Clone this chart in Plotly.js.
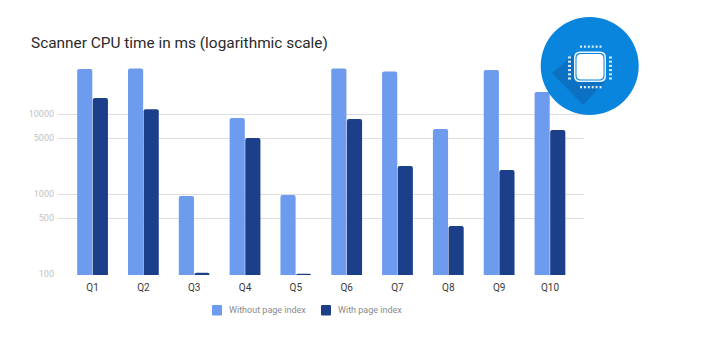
<!DOCTYPE html>
<html><head><meta charset="utf-8">
<script src="https://cdn.plot.ly/plotly-3.0.1.min.js"></script>
<style>html,body{margin:0;padding:0;background:#fff}#c{width:703px;height:353px}</style>
</head><body><div id="c"></div>
<script>
const categories = ['Q1','Q2','Q3','Q4','Q5','Q6','Q7','Q8','Q9','Q10'];
const withoutIndex = [36500,37000,945,8900,970,37000,34000,6500,35500,18800];
const withIndex = [15800,11500,104,5000,101,8650,2240,398,2000,6300];
const tickValues = [100,500,1000,5000,10000];
const seriesNames = ['Without page index','With page index'];
const seriesColors = ['#6d9bee','#1c3f8a'];
const titleText = 'Scanner CPU time in ms (logarithmic scale)';

const W=703,H=353,ml=58,mr=119,mt=60,mb=78;
const pw=W-ml-mr, ph=H-mt-mb;
const X=x=>(x-ml)/pw, Y=y=>(H-mb-y)/ph;
function rect(x0,y0,x1,y1,c){return {type:'rect',xref:'paper',yref:'paper',x0:X(x0),x1:X(x1),y0:Y(y0),y1:Y(y1),fillcolor:c,line:{width:0},layer:'above'};}
function rr(x0,y0,x1,y1,r,c){
  const p=(x,y)=>X(x)+' '+Y(y);
  const path=`M${p(x0+r,y0)}L${p(x1-r,y0)}Q${p(x1,y0)} ${p(x1,y0+r)}L${p(x1,y1-r)}Q${p(x1,y1)} ${p(x1-r,y1)}L${p(x0+r,y1)}Q${p(x0,y1)} ${p(x0,y1-r)}L${p(x0,y0+r)}Q${p(x0,y0)} ${p(x0+r,y0)}Z`;
  return {type:'path',xref:'paper',yref:'paper',path,fillcolor:c,line:{width:0},layer:'above'};
}
function poly(pts,c){return {type:'path',xref:'paper',yref:'paper',path:'M'+pts.map(q=>X(q[0])+' '+Y(q[1])).join('L')+'Z',fillcolor:c,line:{width:0},layer:'above'};}
const cx=589.7,cy=66,r=49;
const shapes=[
 {type:'circle',xref:'paper',yref:'paper',x0:X(cx-r),x1:X(cx+r),y0:Y(cy+r),y1:Y(cy-r),fillcolor:'#0a85de',line:{width:0},layer:'above'},
 poly([[575,53],[552,73],[583,105],[605,82]],'#0c71c2'),
 rr(574,51.5,606,82,6,'#eaf5fd'),
 rr(575.5,53,604.5,80.5,5,'#0a85de'),
 rr(576.5,54,603.5,79.5,4.5,'#ffffff'),
 rr(212,305,222,315.5,1,seriesColors[0]),
 rr(321,305,331,315.5,1,seriesColors[1])
];
for(let i=0;i<6;i++){
  const px=580+i*3.9;
  shapes.push(rect(px,45.5,px+2,47.8,'#d8edfb'));
  shapes.push(rect(px,86,px+2,88.3,'#d8edfb'));
}
for(let i=0;i<6;i++){
  const py=56.5+i*4.2;
  shapes.push(rect(568,py,571,py+2,'#d8edfb'));
  shapes.push(rect(609,py,612,py+2,'#d8edfb'));
}
const legendText=(t,x)=>({xref:'paper',yref:'paper',x:X(x),y:Y(310),xanchor:'left',yanchor:'middle',text:t,showarrow:false,font:{family:'Roboto, sans-serif',size:9,color:'#8a8a8a'},borderpad:0});
Plotly.newPlot('c',[
 {type:'bar',name:seriesNames[0],x:categories,y:withoutIndex,marker:{color:seriesColors[0],line:{width:0}}},
 {type:'bar',name:seriesNames[1],x:categories,y:withIndex,marker:{color:seriesColors[1],line:{width:0}}}
],{
 width:W,height:H,margin:{l:ml,r:mr,t:mt,b:mb,pad:0},
 paper_bgcolor:'#fff',plot_bgcolor:'#fff',
 font:{family:'Roboto, sans-serif'},
 title:{text:titleText,x:31/W,xanchor:'left',y:1-42.5/H,yanchor:'middle',font:{family:'Roboto, sans-serif',size:15.4,color:'#2a2a2a'},automargin:false},
 barmode:'group',bargap:0.385,bargroupgap:0.03,barcornerradius:2,
 xaxis:{type:'category',range:[-0.68,9.67],showgrid:false,showline:false,zeroline:false,ticks:'',tickfont:{size:10,color:'#3a3a3a'},ticklabelstandoff:5},
 yaxis:{type:'log',range:[2-1/80,2+(274-60)/80],tickmode:'array',tickvals:tickValues,ticktext:tickValues.map(String),showgrid:true,gridcolor:'#dedede',gridwidth:1,showline:false,zeroline:false,ticks:'',tickfont:{size:9,color:'#c2c2c2'},ticklabelstandoff:3},
 annotations:[legendText(seriesNames[0],228),legendText(seriesNames[1],337)],
 shapes:shapes,
 showlegend:false
},{displayModeBar:false,responsive:false});
</script></body></html>
